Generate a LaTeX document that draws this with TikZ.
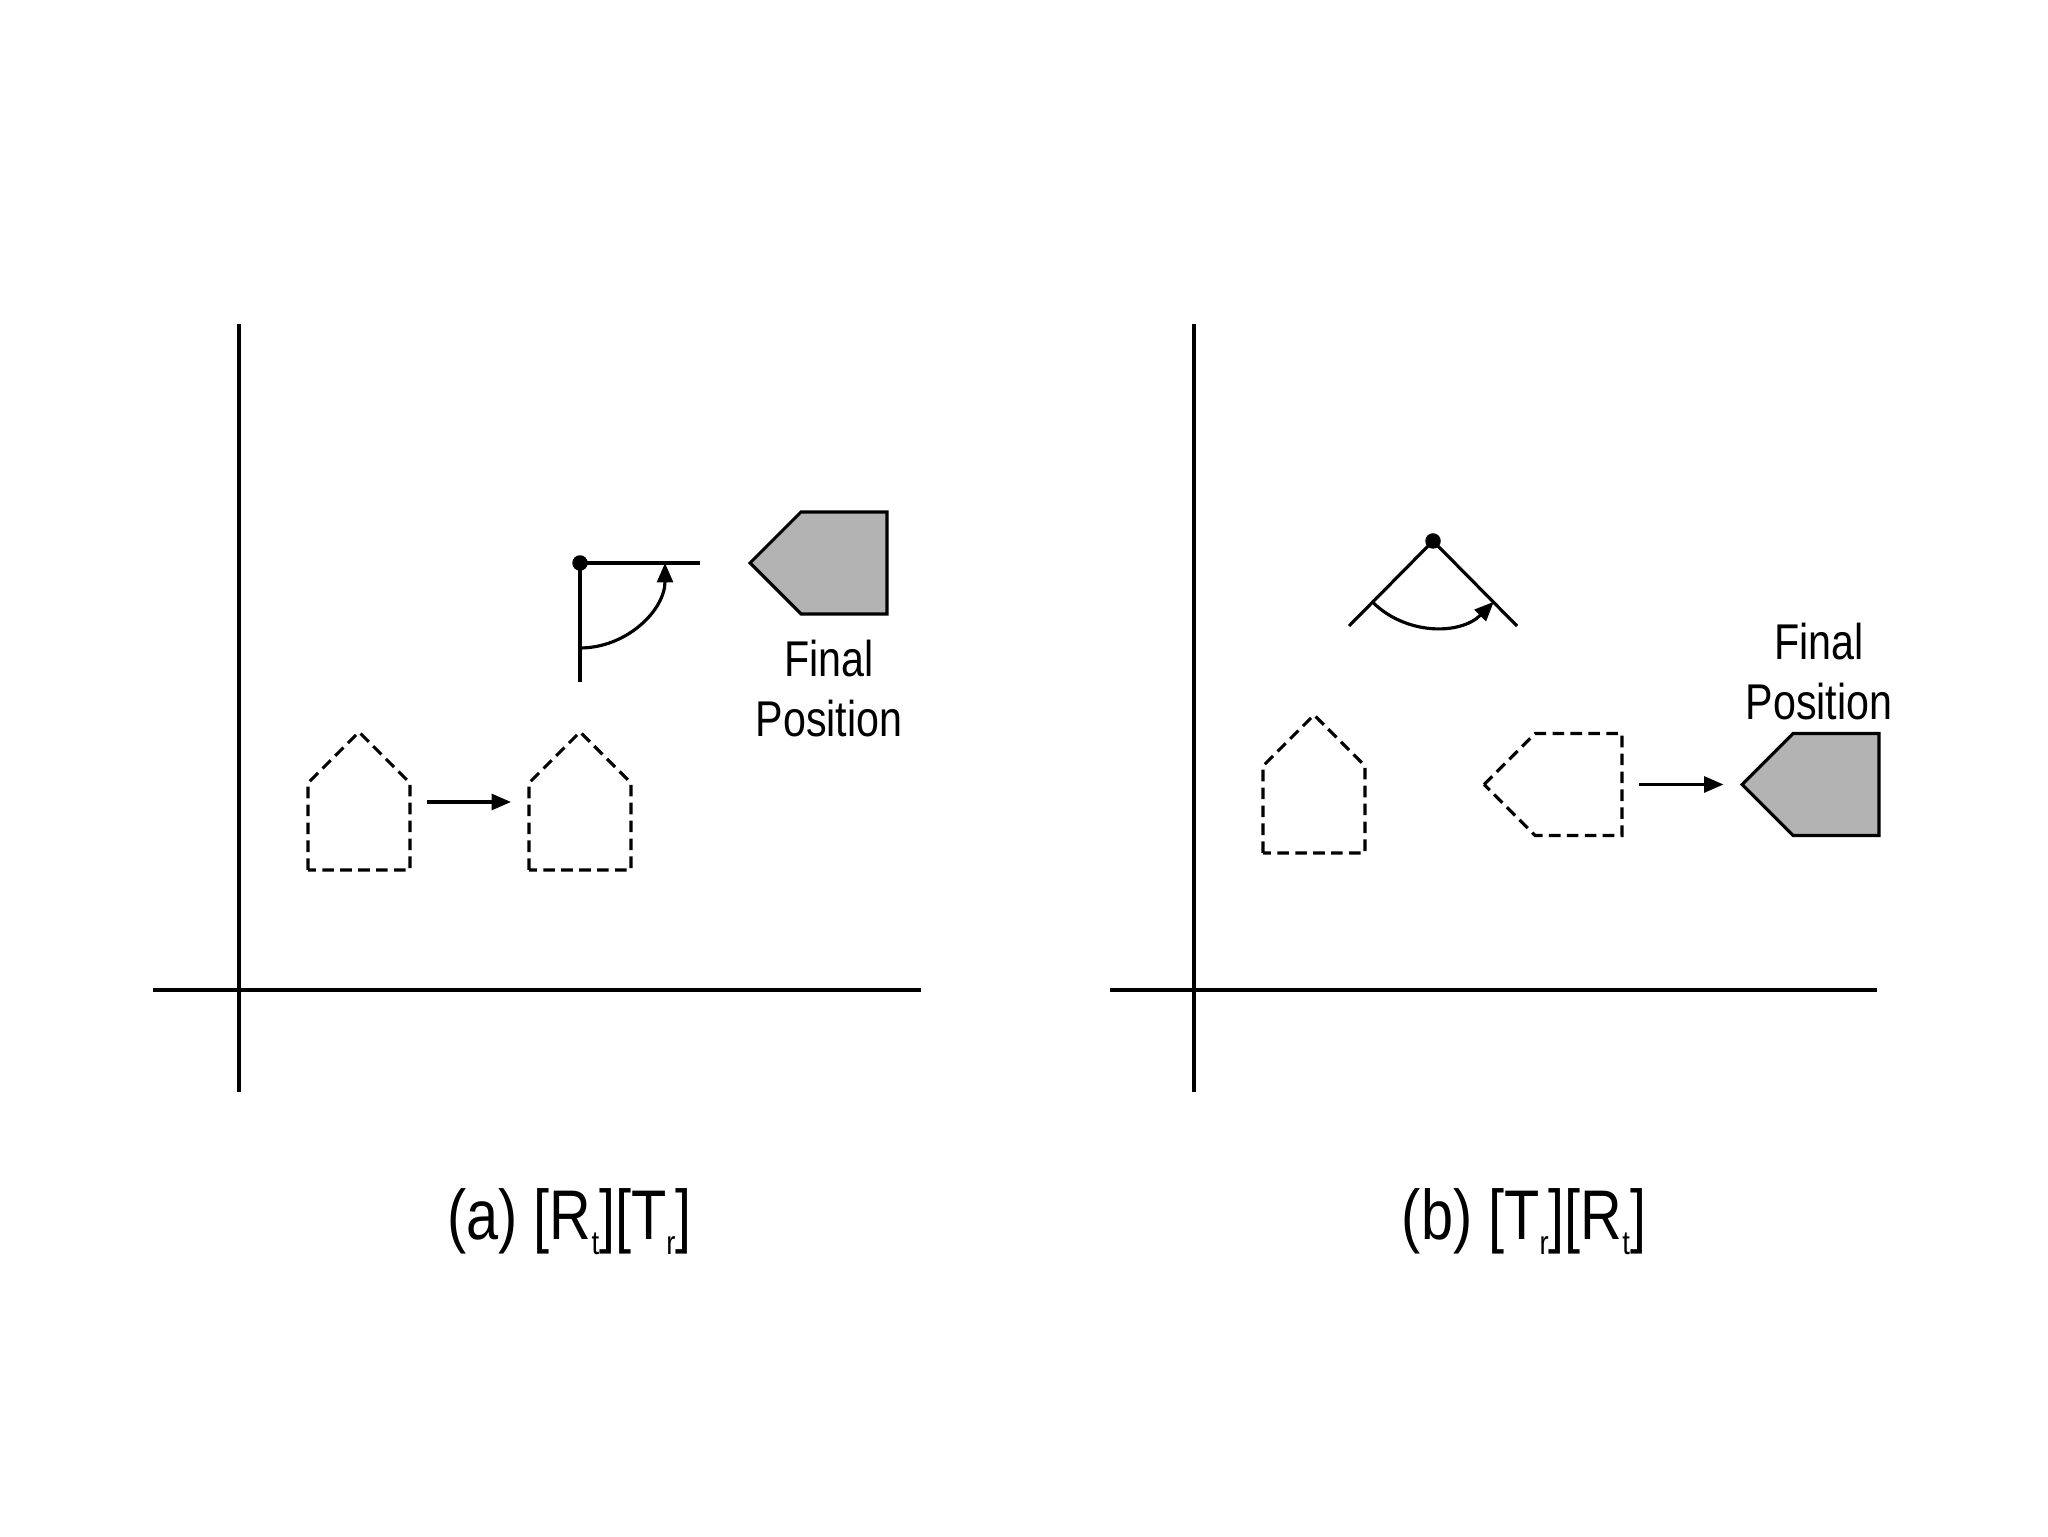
\documentclass[tikz,border=0pt]{standalone}
\usepackage{fontspec}
\setmainfont[FakeStretch=0.82]{Liberation Sans}
\usetikzlibrary{arrows.meta}
\definecolor{shade}{RGB}{179,179,179}
\newcommand\lowsub[1]{\raisebox{-9pt}{\fontsize{19pt}{20pt}\selectfont #1}}
\begin{document}
\begin{tikzpicture}[x=0.2mm,y=0.2mm,
  ln/.style={line width=1.8pt},
  dsh/.style={line width=1.8pt, dash pattern=on 6.6pt off 3.6pt},
  arr/.style={line width=1.8pt, -{Triangle[length=11pt,width=9pt]}},
  fillshape/.style={line width=1.8pt, fill=shade},
  pivot/.style={circle, fill=black, inner sep=0pt, minimum size=3.1mm},
  lbl/.style={font=\fontsize{28.6pt}{34.7pt}\selectfont, align=center, anchor=base, inner sep=0pt},
  captext/.style={font=\fontsize{40pt}{42pt}\selectfont, anchor=base, inner sep=0pt}]
\useasboundingbox (0,0) rectangle (2048,1536);

% ---------- panel (a) ----------
\coordinate (aTop) at (239,1212); \coordinate (aBot) at (239,444);
\coordinate (aLeft) at (153,546); \coordinate (aRight) at (921,546);
\draw[ln] (aTop) -- (aBot);
\draw[ln] (aLeft) -- (aRight);

% dashed houses
\draw[dsh] (308,666) -- (308,753) -- (359,804) -- (410,753) -- (410,666) -- cycle;
\draw[dsh] (529,666) -- (529,753) -- (580,804) -- (631,753) -- (631,666) -- cycle;
\coordinate (a1s) at (427,734); \coordinate (a1e) at (511,734);
\draw[arr] (a1s) -- (a1e);

% rotation
\node[pivot] (pivA) at (580,973) {};
\coordinate (pivAr) at (700,973); \coordinate (pivAd) at (580,854);
\draw[ln] (pivA.center) -- (pivAr);
\draw[ln] (pivA.center) -- (pivAd);
\draw[arr] (580,888) arc[start angle=270, end angle=360, radius=85];

% final shape
\draw[fillshape] (750,973) -- (801,1024) -- (887,1024) -- (887,922) -- (801,922) -- cycle;
\node[lbl] (finA) at (829,799) {Final\\Position};

\node[captext] (capA) at (569.5,297) {(a) [R\lowsub{t}][T\lowsub{r}]};

% ---------- panel (b) ----------
\coordinate (bTop) at (1194,1212); \coordinate (bBot) at (1194,444);
\coordinate (bLeft) at (1110,546); \coordinate (bRight) at (1877,546);
\draw[ln] (bTop) -- (bBot);
\draw[ln] (bLeft) -- (bRight);

% rotation angle
\node[pivot] (pivB) at (1433,995) {};
\coordinate (pivBl) at (1349,910); \coordinate (pivBr) at (1517,910);
\draw[ln] (pivB.center) -- (pivBl);
\draw[ln] (pivB.center) -- (pivBr);
\draw[arr] (1372.2,934.2) arc[start angle=225, end angle=315, radius=86];

% dashed shapes
\draw[dsh] (1263,683) -- (1263,770) -- (1314,821) -- (1365,770) -- (1365,683) -- cycle;
\draw[dsh] (1484,751.5) -- (1535,802.5) -- (1622,802.5) -- (1622,700.5) -- (1535,700.5) -- cycle;
\coordinate (b1s) at (1639,751.5); \coordinate (b1e) at (1723.5,751.5);
\draw[arr] (b1s) -- (b1e);

% final shape
\draw[fillshape] (1742,751.5) -- (1793,802.5) -- (1879,802.5) -- (1879,700.5) -- (1793,700.5) -- cycle;
\node[lbl] (finB) at (1819,816) {Final\\Position};

\node[captext] (capB) at (1524,297) {(b) [T\lowsub{r}][R\lowsub{t}]};
\end{tikzpicture}
\end{document}
